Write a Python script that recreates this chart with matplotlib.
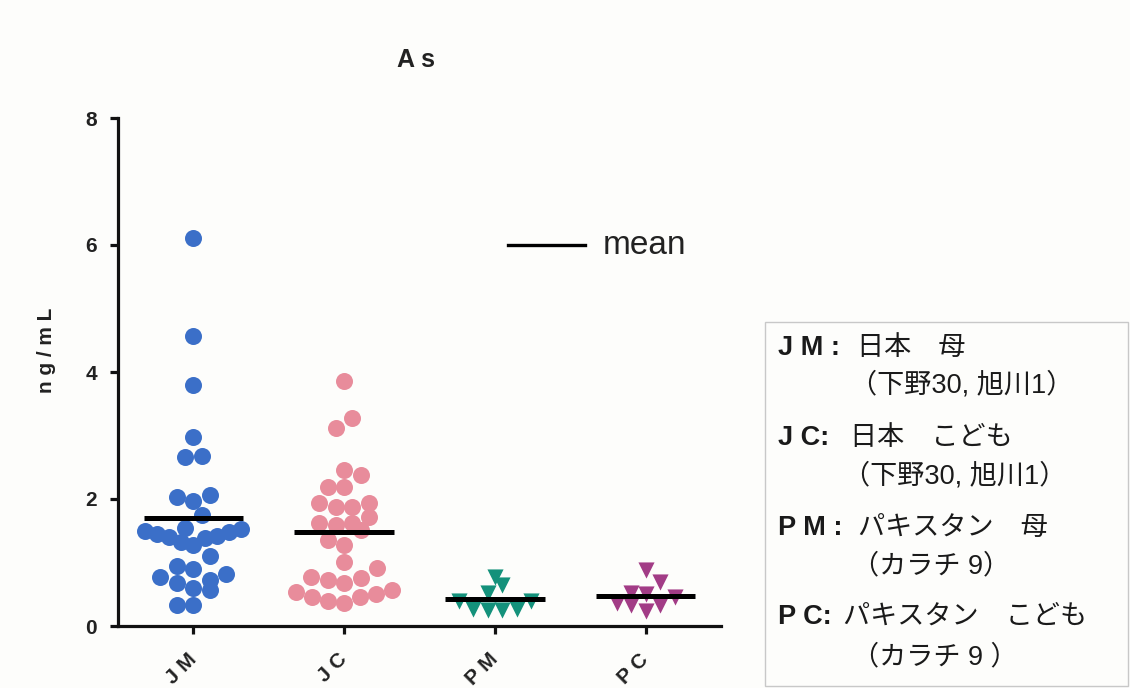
import numpy as np
import matplotlib
matplotlib.use("Agg")
import matplotlib.pyplot as plt
from matplotlib import transforms
from matplotlib.patches import Rectangle

# Arsenic concentration (ng/mL) by group
categories = ["J M", "J C", "P M", "P C"]
jm_values = [6.11, 4.57, 3.80, 2.98, 2.66, 2.68, 2.03, 1.97, 2.06, 1.75,
             1.55, 1.52, 1.50, 1.48, 1.45, 1.42, 1.40, 1.38, 1.33, 1.28,
             1.10, 0.90, 0.77, 0.72, 0.82, 0.94, 0.68, 0.57, 0.60, 0.33, 0.33]
jc_values = [3.86, 3.28, 3.12, 2.38, 2.46, 2.19, 2.19, 1.94, 1.87, 1.87,
             1.94, 1.72, 1.62, 1.51, 1.59, 1.62, 1.28, 1.35, 1.01, 0.91,
             0.72, 0.77, 0.76, 0.68, 0.57, 0.46, 0.36, 0.46, 0.54, 0.40, 0.50]
pm_values = [0.77, 0.64, 0.52, 0.40, 0.40, 0.27, 0.25, 0.25, 0.27]
pc_values = [0.88, 0.70, 0.52, 0.46, 0.50, 0.33, 0.24, 0.33, 0.36]
y_ticks = [0, 2, 4, 6, 8]

groups = [jm_values, jc_values, pm_values, pc_values]
colors = ["#3b6fc8", "#e88c9b", "#14917b", "#a23c86"]
markers = ["o", "o", "v", "v"]
sizes = [150, 150, 135, 135]

legend_lines = [
    [("J M :", True, 778), ("日本　母", False, 857)],
    [("（下野30, 旭川1）", False, 850)],
    [("J C:", True, 778), ("日本　こども", False, 850)],
    [("（下野30, 旭川1）", False, 843)],
    [("P M :", True, 778), ("パキスタン　母", False, 858)],
    [("（カラチ 9）", False, 852)],
    [("P C:", True, 778), ("パキスタン　こども", False, 843)],
    [("（カラチ 9 ）", False, 852)],
]
legend_rows_y = [348, 385, 438, 476, 528, 566, 617, 657]

W, H = 1130, 688
fig = plt.figure(figsize=(W / 100, H / 100), dpi=100)
fig.patch.set_facecolor("#fdfdfb")

ax = fig.add_axes([118 / W, 1 - 626 / H, 603 / W, 508 / H])
ax.set_facecolor("none")
ax.set_xlim(-0.5, 3.5)
ax.set_ylim(0, 8)


def row_scatter_x(values, center, d_px, max_w_px):
    """Scatter-dot layout: nearby values share a row, spread out from the centre."""
    vals = np.asarray(values, dtype=float)
    pts = ax.transData.transform(np.column_stack([np.full(len(vals), center), vals]))
    cx = pts[0, 0]
    ys = pts[:, 1]
    order = np.argsort(ys, kind="stable")
    rows, cur = [], [order[0]]
    for idx in order[1:]:
        if ys[idx] - ys[cur[0]] <= d_px:
            cur.append(idx)
        else:
            rows.append(cur)
            cur = [idx]
    rows.append(cur)
    xs = np.zeros(len(vals))
    for row in rows:
        n = len(row)
        step = d_px if n < 2 else min(d_px, max_w_px / (n - 1))
        # slots ordered from the middle outward, alternating left / right
        slots = sorted([(k - (n - 1) / 2) * step for k in range(n)], key=abs)
        for j, idx in enumerate(row):
            xs[idx] = slots[j]
    disp = np.column_stack([cx + xs, ys])
    return ax.transData.inverted().transform(disp)[:, 0]


for i, (vals, col, mk, s) in enumerate(zip(groups, colors, markers, sizes)):
    if mk == "o":
        xs = row_scatter_x(vals, i, 16.5, 96)
    else:
        xs = row_scatter_x(vals, i, 14.5, 80)
    ax.scatter(xs, vals, s=s, c=col, marker=mk, linewidths=0, zorder=3, clip_on=False)
    m = np.mean(vals)
    ax.hlines(m, i - 0.33, i + 0.33, colors="black", linewidth=3.6, zorder=4)

for side in ["top", "right"]:
    ax.spines[side].set_visible(False)
for side in ["left", "bottom"]:
    ax.spines[side].set_linewidth(2.3)
    ax.spines[side].set_color("#111111")

ax.set_yticks(y_ticks)
ax.set_yticklabels([str(t) for t in y_ticks], fontsize=15, fontweight="bold",
                   family="Liberation Sans", color="#222222")
ax.tick_params(axis="y", length=6, width=2.3, color="#111111", pad=9)
ax.set_xticks(range(len(categories)))
ax.set_xticklabels([])
ax.tick_params(axis="x", length=6, width=2.3, color="#111111")

trans = transforms.blended_transform_factory(ax.transData, ax.transAxes)
for i, lab in enumerate(categories):
    ax.text(i + 0.0, -0.06, lab, transform=trans, rotation=45, ha="right", va="center",
            rotation_mode="anchor", fontsize=15, fontweight="bold",
            family="Liberation Sans", color="#222222")

fig.text(46 / W, 1 - 350 / H, "n g / m L", rotation=90, ha="center", va="center",
         fontsize=15, fontweight="bold", family="Liberation Sans", color="#222222")
fig.text(416 / W, 1 - 60 / H, "A s", ha="center", va="center", fontsize=18,
         fontweight="bold", family="Liberation Sans", color="#222222")

# legend for the mean bar
fig.add_artist(plt.Line2D([508 / W, 585 / W], [1 - 245 / H, 1 - 245 / H],
                          color="black", linewidth=2.4))
fig.text(603 / W, 1 - 245 / H, "mean", ha="left", va="center", fontsize=24,
         family="Liberation Sans", color="#222222")

# group description box
fig.add_artist(Rectangle((765 / W, 1 - 686 / H), (1128 - 765) / W, (686 - 322) / H,
                         transform=fig.transFigure, facecolor="none",
                         edgecolor="#c8c8c8", linewidth=1.0))
fam = ["Liberation Sans", "Noto Sans CJK JP"]
for row, y in zip(legend_lines, legend_rows_y):
    for txt, bold, x in row:
        fig.text(x / W, 1 - y / H, txt, ha="left", va="center", fontsize=19.5,
                 fontweight="bold" if bold else "normal", family=fam, color="#1a1a1a")

fig.savefig("out.png", dpi=100, facecolor=fig.get_facecolor())
